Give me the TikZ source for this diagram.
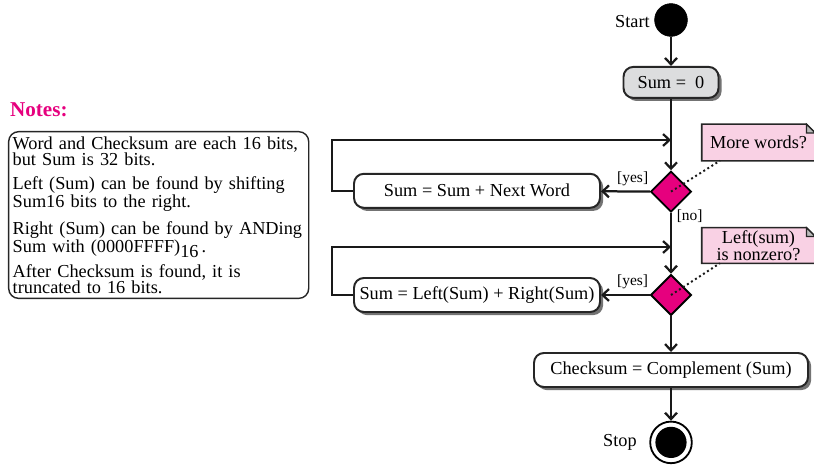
\documentclass[tikz,border=0pt]{standalone}
\usepackage{fontspec}
\setmainfont{Liberation Serif}
\usepackage{xcolor}
\usepackage{tikz}
\usetikzlibrary{shapes.geometric, arrows.meta, positioning, backgrounds, calc, shadows}
\definecolor{initfill}{HTML}{DCDDDE}
\definecolor{decfill}{HTML}{E6007E}
\definecolor{notefill}{HTML}{F9D1E4}
\definecolor{folddraw}{HTML}{BBBBBB}
\definecolor{ttltext}{HTML}{E6007E}
\tikzset{
  blk/.style={rectangle, rounded corners=7pt, line width=1.4pt, draw=black!85, align=center, font=\fontsize{13}{11.1}\selectfont, inner sep=2pt, minimum height=0.85cm},
  act/.style={blk, fill=white, drop shadow={shadow xshift=2.2pt, shadow yshift=-2.2pt, fill=black!55, opacity=1}},
  init/.style={circle, fill=black, draw=black, minimum size=0.82cm, inner sep=0pt},
  final/.style={circle, draw=black, line width=1.3pt, fill=white, minimum size=1.04cm, inner sep=0pt, path picture={\fill[black] (path picture bounding box.center) circle (0.39cm);}},
  decision/.style={diamond, aspect=1, draw=black, fill=decfill, line width=1.3pt, minimum size=1.02cm, inner sep=0pt},
  note/.style={rectangle, align=center, font=\fontsize{13}{11.1}\selectfont, inner sep=1pt, minimum width=2.825cm, minimum height=0.9cm},
  notebox/.style={rectangle, rounded corners=7pt, draw=black!85, line width=1pt, align=left, font=\fontsize{13}{11.4}\selectfont, text width=7.3cm, inner xsep=0.1cm, minimum height=4.1cm},
  ttl/.style={font=\fontsize{15}{15}\selectfont\bfseries, text=ttltext},
  lab/.style={font=\fontsize{13}{13}\selectfont},
  guard/.style={font=\fontsize{11}{11}\selectfont},
  arr/.style={-{Straight Barb[length=4.5pt, width=8.5pt]}, line width=1.6pt, draw=black!90},
  dotline/.style={line width=1.4pt, dash pattern=on 1.4pt off 2pt, draw=black!90},
}
\newcommand{\notefold}[1]{%
  \begin{scope}[on background layer]
    \fill[notefill] (#1.north west) -- ($(#1.north east)+(-0.22,0)$) -- ($(#1.north east)+(0,-0.22)$) -- (#1.south east) -- (#1.south west) -- cycle;
  \end{scope}
  \draw[line width=1.1pt, draw=black!85] (#1.north west) -- ($(#1.north east)+(-0.22,0)$) -- ($(#1.north east)+(0,-0.22)$) -- (#1.south east) -- (#1.south west) -- cycle;
  \draw[line width=0.8pt, draw=black!85, fill=folddraw] ($(#1.north east)+(-0.22,0)$) -- ($(#1.north east)+(-0.22,-0.22)$) -- ($(#1.north east)+(0,-0.22)$) -- cycle;
}

\begin{document}
\begin{tikzpicture}
  \useasboundingbox (0,0) rectangle (20.35,11.6);
  % notes panel
  \node[ttl, anchor=west] (ntitle) at (0.13,8.85) {Notes:};
  \node[notebox, anchor=north west] (notes) at (0.2,8.325) {Word and Checksum are each 16 bits,\\but Sum is 32 bits.\\[6pt]Left (Sum) can be found by shifting\\Sum16 bits to the right.\\[6pt]Right (Sum) can be found by ANDing\\Sum with (0000FFFF)\raisebox{-0.6ex}{16}\,.\\[4pt]After Checksum is found, it is\\truncated to 16 bits.};
  % activity flow
  \node[init] (start) at (16.775,11.1) {};
  \node[lab] (startlab) at (15.81,11.05) {Start};
  \node[act, fill=initfill, minimum width=2.375cm, minimum height=0.775cm] (sum0) at (16.775,9.54) {Sum = \ 0};
  \node[decision] (d1) at (16.775,6.81) {};
  \node[act, minimum width=6.15cm] (add) at (11.925,6.83) {Sum = Sum + Next Word};
  \node[note] (q1) at (18.9625,8.0375) {More words?};
  \node[decision] (d2) at (16.775,4.225) {};
  \node[act, minimum width=6.15cm] (wrap) at (11.925,4.225) {Sum = Left(Sum) + Right(Sum)};
  \node[note, minimum height=0.875cm] (q2) at (18.9625,5.4625) {Left(sum)\\is nonzero?};
  \node[act, minimum width=6.85cm] (chk) at (16.775,2.35) {Checksum = Complement (Sum)};
  \node[final] (stop) at (16.775,0.54) {};
  \node[lab] (stoplab) at (15.5,0.54) {Stop};
  \notefold{q1}
  \notefold{q2}
  % loop corners
  \coordinate (j1) at (16.775,8.1);
  \coordinate (k1) at (8.3,8.1);
  \coordinate (j2) at (16.775,5.425);
  \coordinate (k2) at (8.3,5.425);
  \draw[arr] (start) -- (sum0);
  \draw[arr] (sum0) -- (d1);
  \draw[arr] (d1) -- node[guard, above, pos=0.35]{[yes]} (add);
  \draw[arr] (add.west) -| (k1) -- (j1);
  \draw[arr] (d1) -- node[guard, anchor=west, pos=0.05]{[no]} (d2);
  \draw[arr] (d2) -- node[guard, above, pos=0.35]{[yes]} (wrap);
  \draw[arr] (wrap.west) -| (k2) -- (j2);
  \draw[arr] (d2) -- (chk);
  \draw[arr] (chk) -- (stop);
  \draw[dotline] (d1.center) -- ($(q1.south west)!0.16!(q1.south east)$);
  \draw[dotline] (d2.center) -- ($(q2.south west)!0.16!(q2.south east)$);
\end{tikzpicture}
\end{document}
